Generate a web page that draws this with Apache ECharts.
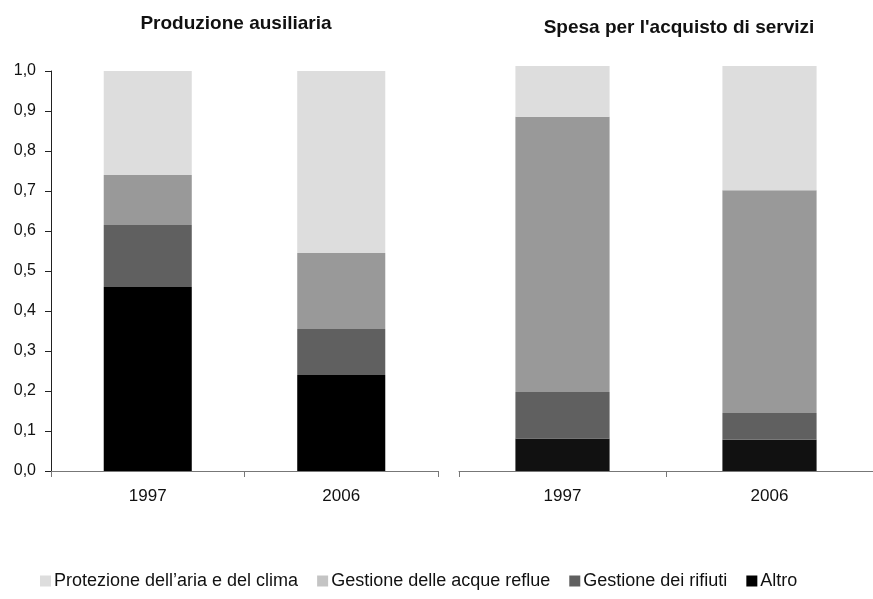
<!DOCTYPE html>
<html>
<head>
<meta charset="utf-8">
<script src="https://cdn.jsdelivr.net/npm/echarts@6/dist/echarts.min.js"></script>
<style>
html,body{margin:0;padding:0;background:#fff;}
#chart{width:873px;height:599px;}
</style>
</head>
<body>
<div id="chart"></div>
<script>
// Categories and shares (fractions of total) per environmental domain
const years = ['1997', '2006'];
const yTicks = [0, 0.1, 0.2, 0.3, 0.4, 0.5, 0.6, 0.7, 0.8, 0.9, 1.0];

const seriesNames = ['Altro', 'Gestione dei rifiuti', 'Gestione delle acque reflue', "Protezione dell\u2019aria e del clima"];

// Produzione ausiliaria
const prodAltro   = [0.46, 0.24];
const prodRifiuti = [0.155, 0.115];
const prodAcque   = [0.125, 0.19];
const prodAria    = [0.26, 0.455];

// Spesa per l'acquisto di servizi
const spesaAltro   = [0.08, 0.077];
const spesaRifiuti = [0.115, 0.066];
const spesaAcque   = [0.68, 0.55];
const spesaAria    = [0.125, 0.307];

const colorsLeft  = ['#000000', '#606060', '#999999', '#dddddd'];
const colorsRight = ['#111111', '#606060', '#999999', '#dddddd'];
const legendColors = ['#000000', '#606060', '#c4c4c4', '#dddddd'];

const font = 'Liberation Sans, Arial, sans-serif';

const chart = echarts.init(document.getElementById('chart'), null, {renderer: 'canvas'});

function makeSeries(values, colors, gridIdx) {
  return values.map((v, i) => ({
    name: seriesNames[i],
    type: 'bar',
    stack: 'g' + gridIdx,
    xAxisIndex: gridIdx,
    yAxisIndex: gridIdx,
    barWidth: '45.5%',
    itemStyle: {color: colors[i]},
    emphasis: {disabled: true},
    data: v
  }));
}

const xAxisCommon = {
  type: 'category',
  data: years,
  axisLine: {lineStyle: {color: '#777', width: 1}},
  axisTick: {show: true, length: 6, lineStyle: {color: '#777'}},
  axisLabel: {color: '#111', fontFamily: font, fontSize: 17, margin: 17},
  splitLine: {show: false}
};

chart.setOption({
  animation: false,
  title: [
    {text: 'Produzione ausiliaria', left: 231, top: 9, textAlign: 'center',
     textStyle: {fontFamily: font, fontSize: 19, fontWeight: 'bold', color: '#111'}},
    {text: "Spesa per l'acquisto di servizi", left: 674, top: 13, textAlign: 'center',
     textStyle: {fontFamily: font, fontSize: 19, fontWeight: 'bold', color: '#111'}}
  ],
  legend: {
    bottom: 4,
    left: 35,
    itemWidth: 11,
    itemHeight: 11,
    itemGap: 19,
    icon: 'rect',
    textStyle: {fontFamily: font, fontSize: 18, color: '#111', padding: [0, 0, 0, -2]},
    data: [
      {name: seriesNames[3], itemStyle: {color: legendColors[3]}},
      {name: seriesNames[2], itemStyle: {color: legendColors[2]}},
      {name: seriesNames[1], itemStyle: {color: legendColors[1]}},
      {name: seriesNames[0], itemStyle: {color: legendColors[0]}}
    ]
  },
  grid: [
    {left: 51, top: 71, width: 387, height: 400},
    {left: 459, top: 66, width: 420, height: 405}
  ],
  xAxis: [
    Object.assign({gridIndex: 0}, xAxisCommon),
    Object.assign({gridIndex: 1}, xAxisCommon)
  ],
  yAxis: [
    {
      type: 'value', gridIndex: 0, min: 0, max: 1, interval: 0.1,
      axisLine: {show: true, lineStyle: {color: '#222'}},
      axisTick: {show: true, length: 6, lineStyle: {color: '#222'}},
      axisLabel: {
        color: '#111', fontFamily: font, fontSize: 16, margin: 15,
        formatter: v => v.toFixed(1).replace('.', ',')
      },
      splitLine: {show: false}
    },
    {
      type: 'value', gridIndex: 1, min: 0, max: 1,
      axisLine: {show: false}, axisTick: {show: false},
      axisLabel: {show: false}, splitLine: {show: false}
    }
  ],
  series: [
    ...makeSeries([prodAltro, prodRifiuti, prodAcque, prodAria], colorsLeft, 0),
    ...makeSeries([spesaAltro, spesaRifiuti, spesaAcque, spesaAria], colorsRight, 1)
  ]
});
</script>
</body>
</html>
